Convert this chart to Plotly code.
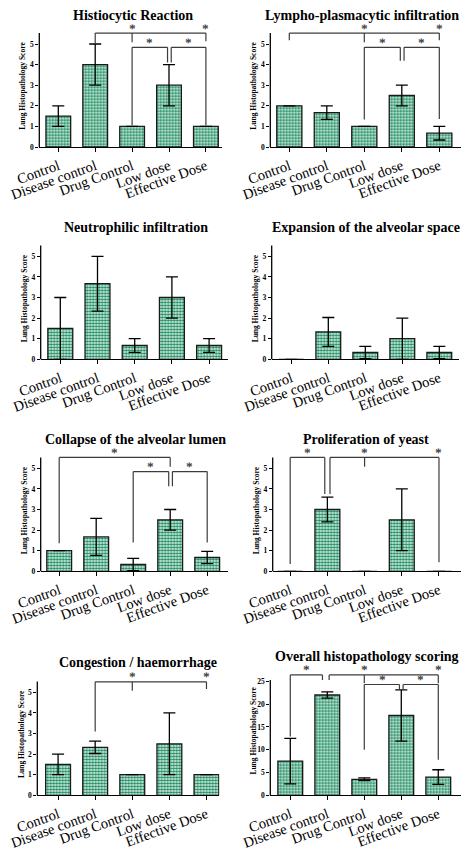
import plotly.graph_objects as go

# ---------------------------------------------------------------- data
categories = ["Control", "Disease control", "Drug Control", "Low dose", "Effective Dose"]

histiocytic_mean = [1.5, 4.0, 1.0, 3.0, 1.0]
histiocytic_sd = [0.5, 1.0, 0.0, 1.0, 0.0]

lympho_mean = [2.0, 1.67, 1.0, 2.5, 0.67]
lympho_sd = [0.0, 0.33, 0.0, 0.5, 0.33]

neutro_mean = [1.5, 3.67, 0.67, 3.0, 0.67]
neutro_sd = [1.5, 1.33, 0.33, 1.0, 0.33]

expansion_mean = [0.0, 1.33, 0.33, 1.0, 0.33]
expansion_sd = [0.0, 0.7, 0.3, 1.0, 0.3]

collapse_mean = [1.0, 1.67, 0.33, 2.5, 0.67]
collapse_sd = [0.0, 0.9, 0.3, 0.5, 0.3]

yeast_mean = [0.0, 3.0, 0.0, 2.5, 0.0]
yeast_sd = [0.0, 0.6, 0.0, 1.5, 0.0]

congestion_mean = [1.5, 2.33, 1.0, 2.5, 1.0]
congestion_sd = [0.5, 0.3, 0.0, 1.5, 0.0]

overall_mean = [7.5, 22.0, 3.5, 17.5, 4.0]
overall_sd = [5.0, 0.7, 0.3, 5.6, 1.6]

# significance brackets: polylines (category index, score) and star positions
histiocytic_brackets = [
    [(1, 5.05), (1, 5.53), (4, 5.53), (4, 5.13)],
    [(2, 5.53), (2, 5.08)],
    [(2, 1.05), (2, 4.84), (2.96, 4.84), (2.96, 4.1)],
    [(3.06, 4.1), (3.06, 4.84), (4, 4.84), (4, 1.05)],
]
histiocytic_stars = [(2, 5.53), (4, 5.53), (2.48, 4.84), (3.53, 4.84)]

lympho_brackets = [
    [(0, 5.18), (0, 5.53), (4, 5.53), (4, 5.18)],
    [(2, 5.53), (2, 5.08)],
    [(2, 1.33), (2, 4.84), (2.96, 4.84), (2.96, 4.19)],
    [(3.06, 4.19), (3.06, 4.84), (4, 4.84), (4, 1.36)],
]
lympho_stars = [(2, 5.53), (4, 5.53), (2.48, 4.84), (3.53, 4.84)]

collapse_brackets = [
    [(0, 1.36), (0, 5.53), (3, 5.53), (3, 5.08)],
    [(2, 1.4), (2, 4.84), (2.96, 4.84), (2.96, 4.13)],
    [(3.06, 4.13), (3.06, 4.84), (4, 4.84), (4, 1.4)],
]
collapse_stars = [(1.5, 5.53), (2.48, 4.84), (3.53, 4.84)]

yeast_brackets = [
    [(0, 0.36), (0, 5.53), (0.93, 5.53), (0.93, 3.75)],
    [(1.07, 3.75), (1.07, 5.53), (4, 5.53), (4, 0.44)],
    [(2, 5.53), (2, 5.08)],
]
yeast_stars = [(0.47, 5.53), (2, 5.53), (4, 5.53)]

congestion_brackets = [
    [(1, 3.1), (1, 5.51), (4, 5.51), (4, 5.16)],
    [(2, 5.51), (2, 5.08)],
]
congestion_stars = [(2, 5.51), (4, 5.51)]

overall_brackets = [
    [(0, 12.9), (0, 26.4), (0.87, 26.4), (0.87, 25.3)],
    [(1.05, 25.3), (1.05, 26.4), (4, 26.4), (4, 24.6)],
    [(2, 26.4), (2, 24.6)],
    [(2, 10.0), (2, 24.3), (2.95, 24.3), (2.95, 23.2)],
    [(3.05, 23.2), (3.05, 24.3), (4, 24.3), (4, 7.8)],
]
overall_stars = [(0.44, 26.4), (2, 26.4), (4, 26.4), (2.48, 24.3), (3.53, 24.3)]

# ---------------------------------------------------------------- style
W, H = 462, 848
SERIF = "Times New Roman, Liberation Serif, serif"
GREEN = "#12895a"
BRACKET = "#3c3c3c"

# panel geometry in pixels: left/right of the x axis, baseline, px per score unit
panels = [
    dict(title="Histiocytic Reaction", mean=histiocytic_mean, sd=histiocytic_sd,
         br=histiocytic_brackets, st=histiocytic_stars,
         left=39.3, right=221.7, sp=36.9, xmin=-0.515, base=147, unit=20.6,
         ymax=5.6, top=5.53, dtick=1, tx=132.7, ty=15),
    dict(title="Lympho-plasmacytic infiltration", mean=lympho_mean, sd=lympho_sd,
         br=lympho_brackets, st=lympho_stars,
         left=270.3, right=461, sp=37.5, xmin=-0.507, base=147, unit=20.6,
         ymax=5.6, top=5.53, dtick=1, tx=362, ty=15),
    dict(title="Neutrophilic infiltration", mean=neutro_mean, sd=neutro_sd,
         br=[], st=[],
         left=40.7, right=228.3, sp=37.2, xmin=-0.527, base=359.3, unit=20.6,
         ymax=5.6, top=5.53, dtick=1, tx=136, ty=227),
    dict(title="Expansion of the alveolar space", mean=expansion_mean, sd=expansion_sd,
         br=[], st=[],
         left=271.7, right=459.3, sp=37.0, xmin=-0.53, base=359.3, unit=20.6,
         ymax=5.6, top=5.53, dtick=1, tx=366, ty=227),
    dict(title="Collapse of the alveolar lumen", mean=collapse_mean, sd=collapse_sd,
         br=collapse_brackets, st=collapse_stars,
         left=40.7, right=228.3, sp=37.0, xmin=-0.5, base=571.3, unit=20.6,
         ymax=5.6, top=5.53, dtick=1, tx=135.5, ty=439),
    dict(title="Proliferation of yeast", mean=yeast_mean, sd=yeast_sd,
         br=yeast_brackets, st=yeast_stars,
         left=272.7, right=461, sp=37.2, xmin=-0.47, base=571.3, unit=20.6,
         ymax=5.6, top=5.53, dtick=1, tx=365.5, ty=439),
    dict(title="Congestion / haemorrhage", mean=congestion_mean, sd=congestion_sd,
         br=congestion_brackets, st=congestion_stars,
         left=37.3, right=219.3, sp=37.1, xmin=-0.56, base=795.3, unit=20.6,
         ymax=5.6, top=5.53, dtick=1, tx=137.5, ty=662),
    dict(title="Overall histopathology scoring", mean=overall_mean, sd=overall_sd,
         br=overall_brackets, st=overall_stars,
         left=270.3, right=461, sp=37.0, xmin=-0.54, base=795.3, unit=4.56,
         ymax=26.7, top=25.3, dtick=5, tx=366.5, ty=656),
]

fig = go.Figure()
shapes = []
annotations = []
layout_axes = {}

for i, p in enumerate(panels, start=1):
    sx = "" if i == 1 else str(i)
    xa, ya = "x" + sx, "y" + sx

    fig.add_trace(go.Bar(
        x=categories, y=p["mean"], width=0.67,
        xaxis=xa, yaxis=ya, showlegend=False,
        marker=dict(
            color="white",
            line=dict(color="#1a1a1a", width=1.3),
            pattern=dict(shape=".", fgcolor=GREEN, bgcolor="white",
                         size=3, solidity=0.6, fillmode="replace"),
        ),
        error_y=dict(type="data", array=p["sd"], visible=True,
                     color="black", thickness=1.3, width=6),
    ))

    y_bottom = 1 - p["base"] / H
    y_top = 1 - (p["base"] - p["ymax"] * p["unit"]) / H
    xmax = p["xmin"] + (p["right"] - p["left"]) / p["sp"]

    layout_axes["xaxis" + sx] = dict(
        domain=[p["left"] / W, min(p["right"] / W, 1.0)], anchor=ya,
        automargin=False,
        type="category", categoryorder="array", categoryarray=categories,
        range=[p["xmin"], xmax],
        showline=True, linecolor="black", linewidth=1.3,
        ticks="outside", ticklen=4, tickwidth=1, tickcolor="black",
        tickangle=-20, showgrid=False, zeroline=False,
        tickfont=dict(family=SERIF, size=14.5, color="black"),
    )
    layout_axes["yaxis" + sx] = dict(
        domain=[y_bottom, y_top], anchor=xa,
        automargin=False,
        range=[0, p["ymax"]],
        tickvals=list(range(0, int(p["top"]) + 1, p["dtick"])),
        showline=False, showgrid=False, zeroline=False,
        ticks="outside", ticklen=3, tickwidth=1, tickcolor="black",
        tickfont=dict(family=SERIF, size=7.5, color="black", weight="bold"),
    )

    # y axis line, stopping a little above the top tick
    shapes.append(dict(type="line", xref=xa + " domain", yref=ya + " domain",
                       x0=0, x1=0, y0=0, y1=p["top"] / p["ymax"],
                       line=dict(color="black", width=1.3)))

    # significance brackets
    for poly in p["br"]:
        for (x0, y0), (x1, y1) in zip(poly[:-1], poly[1:]):
            shapes.append(dict(type="line", xref=xa, yref=ya,
                               x0=x0, y0=y0, x1=x1, y1=y1,
                               line=dict(color=BRACKET, width=1.2)))
    for sx_, sy_ in p["st"]:
        annotations.append(dict(x=sx_, y=sy_, xref=xa, yref=ya, text="<b>*</b>",
                                showarrow=False, yanchor="middle", yshift=5,
                                textangle=0.5,
                                font=dict(family=SERIF, size=13, color=BRACKET)))

    # panel title
    annotations.append(dict(x=p["tx"] / W, y=1 - p["ty"] / H, xref="paper", yref="paper",
                            text="<b>" + p["title"] + "</b>", showarrow=False,
                            xanchor="center", yanchor="middle",
                            font=dict(family=SERIF, size=14, color="black")))
    # y axis title
    annotations.append(dict(x=0, y=0.53, xref=xa + " domain", yref=ya + " domain",
                            xshift=-16.5, text="<b>Lung Histopathology Score</b>",
                            textangle=-90, showarrow=False,
                            xanchor="center", yanchor="middle",
                            font=dict(family=SERIF, size=7.5, color="black")))

fig.update_layout(
    template="none",
    width=W, height=H,
    margin=dict(l=0, r=0, t=0, b=0, autoexpand=False),
    paper_bgcolor="white", plot_bgcolor="white",
    shapes=shapes, annotations=annotations,
    font=dict(family=SERIF),
    **layout_axes,
)

fig.write_html("out.html")
